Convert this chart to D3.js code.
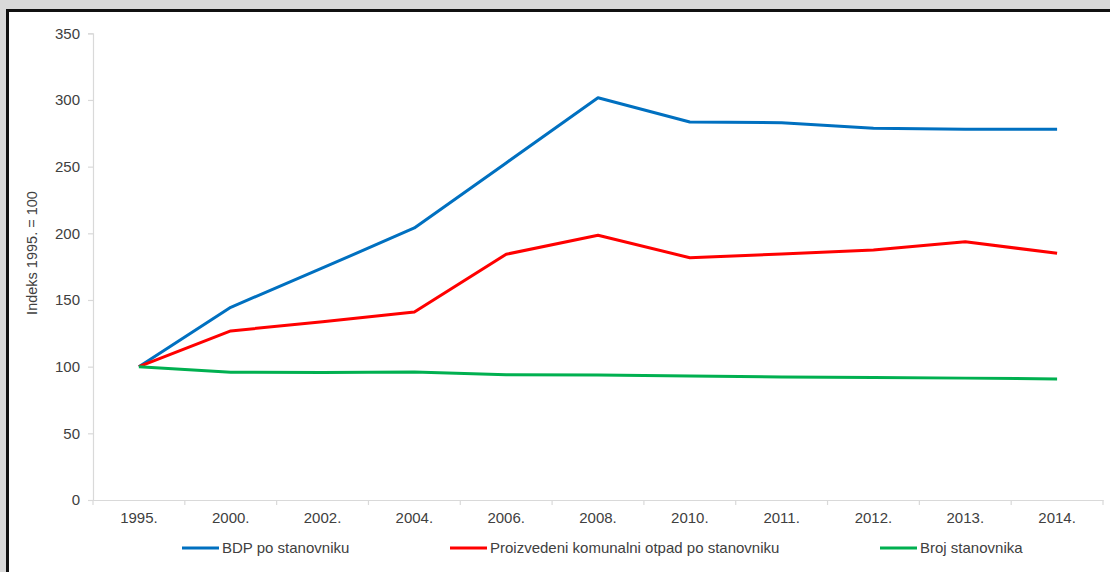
<!DOCTYPE html>
<html>
<head>
<meta charset="utf-8">
<script src="https://cdn.jsdelivr.net/npm/d3@7"></script>
<style>
  html, body { margin: 0; padding: 0; background: #fff; }
  svg { display: block; font-family: "Liberation Sans", Arial, sans-serif; }
</style>
</head>
<body>
<svg id="chart" width="1110" height="572"></svg>
<script>
// Years on the category axis
const years = ["1995.", "2000.", "2002.", "2004.", "2006.", "2008.", "2010.", "2011.", "2012.", "2013.", "2014."];

// Index values, 1995 = 100
const bdp = [100, 144.5, 174, 204, 252.8, 301.7, 283.5, 283, 278.8, 278, 278];
const otpad = [100, 126.8, 133.7, 141, 184.3, 198.5, 181.7, 184.5, 187.5, 193.7, 185];
const stanovnici = [100, 95.8, 95.6, 96, 94, 93.7, 93, 92.3, 91.8, 91.4, 90.8];

const yTicks = [0, 50, 100, 150, 200, 250, 300, 350];

const seriesNames = ["BDP po stanovniku", "Proizvedeni komunalni otpad po stanovniku", "Broj stanovnika"];
const seriesColors = ["#0070C0", "#FF0000", "#00B050"];
const seriesValues = [bdp, otpad, stanovnici];

const svg = d3.select("#chart");
const W = 1110, H = 572;

// Frame: grey band and dark border on top and left
svg.append("rect").attr("x", 0).attr("y", 0).attr("width", W).attr("height", H).attr("fill", "#fff");
svg.append("rect").attr("x", 0).attr("y", 0).attr("width", W).attr("height", 9).attr("fill", "#d9d9d9");
svg.append("rect").attr("x", 0).attr("y", 0).attr("width", 6).attr("height", H).attr("fill", "#d9d9d9");
svg.append("rect").attr("x", 6).attr("y", 9).attr("width", W - 6).attr("height", 3).attr("fill", "#111");
svg.append("rect").attr("x", 6).attr("y", 9).attr("width", 3).attr("height", H - 9).attr("fill", "#111");

const plot = { left: 93, right: 1103, top: 33.3, bottom: 500 };

const x = d3.scaleBand().domain(years).range([plot.left, plot.right]).paddingInner(0).paddingOuter(0);
const y = d3.scaleLinear().domain([0, 350]).range([plot.bottom, plot.top]);

const axisColor = "#d9d9d9";
const textColor = "#404040";
const fontSize = 15;

// Y axis
const yAxis = svg.append("g")
  .attr("transform", `translate(${plot.left},0)`)
  .call(d3.axisLeft(y).tickValues(yTicks).tickSize(5).tickPadding(8).tickFormat(d3.format("d")));
yAxis.select(".domain").attr("stroke", axisColor).attr("stroke-width", 1.2);
yAxis.selectAll(".tick line").attr("stroke", axisColor).attr("stroke-width", 1.2);
yAxis.selectAll(".tick text").attr("fill", textColor).attr("font-size", fontSize);

// X axis with ticks at category boundaries
const xAxis = svg.append("g")
  .attr("transform", `translate(0,${plot.bottom})`)
  .call(d3.axisBottom(x).tickSize(0).tickPadding(12));
xAxis.select(".domain").attr("stroke", axisColor).attr("stroke-width", 1.2);
xAxis.selectAll(".tick text").attr("fill", textColor).attr("font-size", fontSize);
const boundaries = years.map(d => x(d)).concat([x(years[years.length - 1]) + x.bandwidth()]);
xAxis.selectAll("line.boundary")
  .data(boundaries)
  .join("line")
  .attr("class", "boundary")
  .attr("x1", d => d).attr("x2", d => d)
  .attr("y1", 0).attr("y2", 5)
  .attr("stroke", axisColor).attr("stroke-width", 1.2);

// Y axis title
svg.append("text")
  .attr("transform", `translate(37,253) rotate(-90)`)
  .attr("text-anchor", "middle")
  .attr("fill", textColor)
  .attr("font-size", 14.5)
  .text("Indeks 1995. = 100");

// Series lines
const line = d3.line()
  .x((d, i) => x(years[i]) + x.bandwidth() / 2)
  .y(d => y(d));

seriesValues.forEach((vals, k) => {
  svg.append("path")
    .datum(vals)
    .attr("fill", "none")
    .attr("stroke", seriesColors[k])
    .attr("stroke-width", 3)
    .attr("stroke-linejoin", "round")
    .attr("d", line);
});

// Legend
const legendX = [182, 450, 880];
const legendY = 548;
seriesNames.forEach((name, k) => {
  const g = svg.append("g").attr("transform", `translate(${legendX[k]},${legendY})`);
  g.append("line").attr("x1", 0).attr("x2", 37).attr("y1", 0).attr("y2", 0)
    .attr("stroke", seriesColors[k]).attr("stroke-width", 3);
  g.append("text").attr("x", 40).attr("y", 0).attr("dy", "0.35em")
    .attr("fill", textColor).attr("font-size", fontSize).text(name);
});
</script>
</body>
</html>
